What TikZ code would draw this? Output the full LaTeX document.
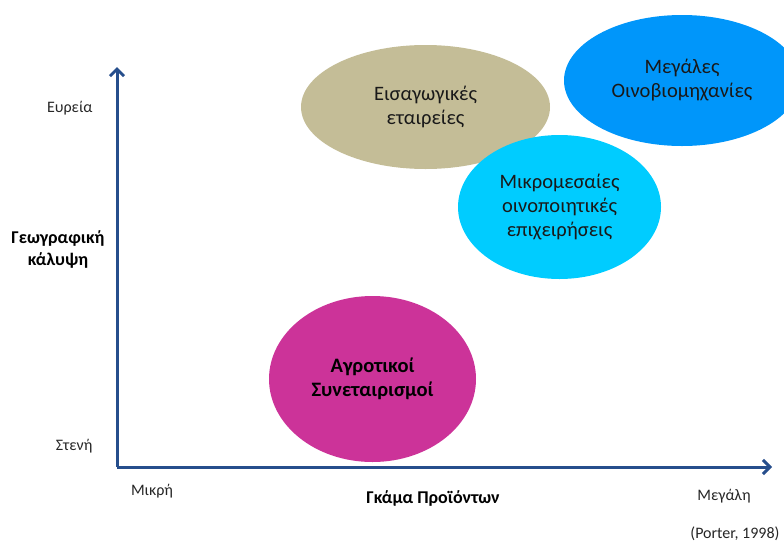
\documentclass[tikz,border=0pt]{standalone}
\usepackage{fontspec}
\setmainfont{Carlito}
\usetikzlibrary{shapes.geometric,arrows.meta}

\definecolor{axisblue}{RGB}{38,78,140}
\definecolor{khaki}{RGB}{196,189,151}
\definecolor{bigblue}{RGB}{0,150,250}
\definecolor{skyblue}{RGB}{0,204,255}
\definecolor{magenta}{RGB}{204,51,153}

\begin{document}
\begin{tikzpicture}[x=1pt,y=-1pt,
    blob/.style={ellipse,inner sep=0pt,align=center,font=\fontsize{20.5}{24}\selectfont,text=black!90},
    axis/.style={axisblue,line width=3pt,-{Straight Barb[length=7pt,width=14pt,line width=3pt]}},
    tick/.style={font=\fontsize{16}{19}\selectfont,text=black!85},
    title/.style={font=\bfseries\fontsize{18}{22}\selectfont,align=center}]
        \useasboundingbox (0,0) rectangle (784,544);
        \clip (0,0) rectangle (784,544);

        % Axes
        \coordinate (origin) at (117,467);
        \coordinate (ytop) at (117,67);
        \coordinate (xend) at (772,467);
        \draw[axis] (origin) -- (ytop);
        \draw[axis] (origin) -- (xend);

        % Groups
        \node[blob,fill=khaki,minimum width=249pt,minimum height=124pt] (eisag) at (425.5,107) {Εισαγωγικές\\εταιρείες};
        \node[blob,fill=bigblue,minimum width=236pt,minimum height=131pt] (megales) at (682,80.5) {Μεγάλες\\Οινοβιομηχανίες};
        \node[blob,fill=skyblue,minimum width=203pt,minimum height=144pt] (mikro) at (559.5,207) {Μικρομεσαίες\\οινοποιητικές\\επιχειρήσεις};
        \node[blob,fill=magenta,minimum width=207pt,minimum height=166pt,font=\bfseries\fontsize{20.5}{24}\selectfont,text=black] (agrot) at (372.5,379) {Αγροτικοί\\Συνεταιρισμοί};

        % Axis labels
        \node[tick,anchor=east] (evreia) at (96,108) {Ευρεία};
        \node[tick,anchor=east] (steni) at (96,446) {Στενή};
        \node[title] (geo) at (58,249) {Γεωγραφική\\κάλυψη};
        \node[tick] (mikri) at (152,491) {Μικρή};
        \node[tick] (megali) at (724,496) {Μεγάλη};
        \node[title] (gkama) at (433,498) {Γκάμα Προϊόντων};
        \node[tick,anchor=east] (porter) at (783,534) {(Porter, 1998)};
    \end{tikzpicture}
\end{document}
